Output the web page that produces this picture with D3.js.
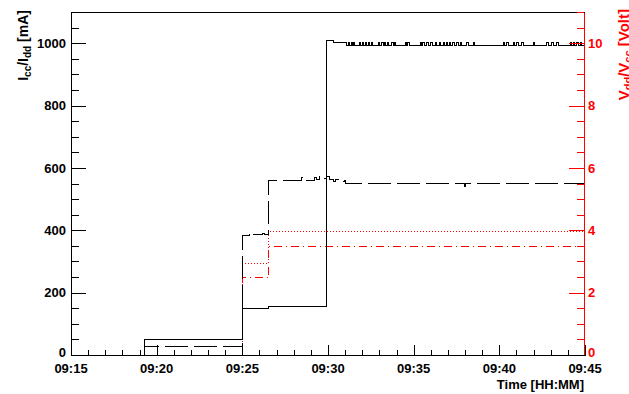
<!DOCTYPE html>
<html><head><meta charset="utf-8">
<script src="https://cdn.jsdelivr.net/npm/d3@7"></script>
<style>
body{margin:0;background:#fff;}
text{font-family:"Liberation Sans",Arial,Helvetica,sans-serif;font-weight:bold;}
</style></head>
<body>
<svg id="c" width="629" height="394"></svg>
<script>
// ---- data (time in minutes after 09:15) ----
const xTickLabels = ["09:15","09:20","09:25","09:30","09:35","09:40","09:45"];
const xTickMinutes = [0,5,10,15,20,25,30];
const leftTicks = [0,200,400,600,800,1000];
const rightTicks = [0,2,4,6,8,10];

// Icc (solid black), mA
const iccSteps = [[4.3,0],[4.3,50],[10.0,150],[11.55,157],[14.9,1010],[15.3,1001],[16.1,994]];
const iccBase = 994, iccHigh = 1001, iccEndTime = 30;
const iccPulseOn  = [16.19,16.35,16.48,16.83,16.99,17.16,17.36,17.51,17.94,18.14,18.29,18.47,18.72,18.88,19.50,19.66,20.37,20.53,20.76,21.00,21.25,21.50,21.73,21.89,22.08,22.28,22.52,22.71,23.10,23.49,25.24,25.43,25.82,26.02,26.31,26.99,27.77,28.06,28.35,29.13,29.32,29.52,29.71];
const iccPulseOff = [16.28,16.43,16.56,16.91,17.07,17.24,17.44,17.59,18.02,18.22,18.37,18.55,18.80,18.96,19.58,19.74,20.45,20.61,20.84,21.08,21.33,21.58,21.81,21.97,22.16,22.36,22.60,22.79,23.18,23.57,25.32,25.51,25.90,26.10,26.39,27.07,27.85,28.14,28.43,29.21,29.40,29.60,29.79];

// Idd (dashed black), mA
const iddSteps = [[4.3,0],[4.3,28],[10.0,382],[10.4,392],[10.5,386],[11.2,390],[11.3,386],[11.55,560],[13.45,570],[13.55,560],[14.2,570],[14.3,562],[14.5,572],[14.65,566],[14.9,572],[15.1,564],[15.3,558],[15.45,563],[15.6,555],[15.95,559],[16.05,550],[22.95,540],[23.05,550],[30,550]];

// Vcc (red dotted), Volt
const vccSteps = [[4.3,0],[10.0,2.95],[11.55,3.97],[30,3.97]];
// Vdd (red dash-dot), Volt
const vddSteps = [[4.3,0],[10.0,2.47],[11.55,3.47],[30,3.47]];

// ---- build ----
const icc = iccSteps.slice();
iccPulseOn.forEach((t,i)=>{ icc.push([t,iccHigh]); icc.push([iccPulseOff[i],iccBase]); });
icc.push([iccEndTime,iccBase]);

const svg = d3.select("#c");
const L=71, R=585, T=12, B=355;
const x = d3.scaleLinear().domain([0,30]).range([L,R]);
const yL = d3.scaleLinear().domain([0,1100]).range([B,T]);
const yR = d3.scaleLinear().domain([0,11]).range([B,T]);

const lineL = d3.line().x(d=>x(d[0])).y(d=>yL(d[1])).curve(d3.curveStepAfter);
const lineR = d3.line().x(d=>x(d[0])).y(d=>yR(d[1])).curve(d3.curveStepAfter);

const data = svg.append("g").attr("shape-rendering","crispEdges");
data.append("path").attr("d",lineR(vccSteps)).attr("fill","none").attr("stroke","#ff0000").attr("stroke-width",1).attr("stroke-dasharray","1,2");
data.append("path").attr("d",lineR(vddSteps)).attr("fill","none").attr("stroke","#ff0000").attr("stroke-width",1).attr("stroke-dasharray","8,4,1,4");
data.append("path").attr("d",lineL(iddSteps)).attr("fill","none").attr("stroke","#000").attr("stroke-width",1).attr("stroke-dasharray","23,6");
data.append("path").attr("d",lineL(icc)).attr("fill","none").attr("stroke","#000").attr("stroke-width",1);

// frame
svg.append("line").attr("x1",L).attr("x2",R).attr("y1",T).attr("y2",T).attr("stroke","#000").attr("shape-rendering","crispEdges");

// left axis
const axL = d3.axisLeft(yL).tickValues(d3.range(0,1101,50)).tickSizeInner(-15).tickSizeOuter(0).tickFormat("");
const gL = svg.append("g").attr("transform",`translate(${L},0)`).attr("shape-rendering","crispEdges").call(axL);
gL.selectAll(".tick line").attr("x2",d=>leftTicks.includes(d)?15:7.5).attr("stroke","#000");
gL.select(".domain").attr("stroke","#000");
svg.append("g").selectAll("text").data(leftTicks).join("text")
  .attr("x",L-5).attr("y",d=>yL(d)-(d===0?3:0)).attr("dy","0.36em").attr("text-anchor","end")
  .attr("font-size",13).text(d=>d);

// right axis
const axR = d3.axisRight(yR).tickValues(d3.range(0,11.01,0.5)).tickSizeInner(-15).tickSizeOuter(0).tickFormat("");
const gR = svg.append("g").attr("transform",`translate(${R-1},0)`).attr("shape-rendering","crispEdges").call(axR);
gR.selectAll(".tick line").attr("x2",d=>rightTicks.includes(Math.round(d*100)/100)?-15:-7.5).attr("stroke","#ff0000");
gR.select(".domain").attr("stroke","#ff0000");
svg.append("g").selectAll("text").data(rightTicks).join("text")
  .attr("x",R+3).attr("y",d=>yR(d)-(d===0?3:0)).attr("dy","0.36em").attr("text-anchor","start")
  .attr("fill","#ff0000").attr("font-size",13).text(d=>d);

// bottom axis
const axB = d3.axisBottom(x).tickValues(d3.range(0,30.01,1)).tickSizeInner(-10).tickSizeOuter(0).tickFormat("");
const gB = svg.append("g").attr("transform",`translate(0,${B})`).attr("shape-rendering","crispEdges").call(axB);
gB.selectAll(".tick line").attr("y2",d=>xTickMinutes.includes(d)?-10:-5).attr("stroke","#000");
gB.select(".domain").attr("stroke","#000");
svg.append("g").selectAll("text").data(xTickMinutes).join("text")
  .attr("x",d=>x(d)).attr("y",373).attr("text-anchor","middle")
  .attr("font-size",13).text((d,i)=>xTickLabels[i]);

// titles
svg.append("text").attr("x",R-1).attr("y",389).attr("text-anchor","end").attr("font-size",13).text("Time [HH:MM]");

const tl = svg.append("text").attr("transform",`translate(28,${T-2}) rotate(-90)`).attr("text-anchor","end").attr("font-size",14);
tl.append("tspan").text("I");
tl.append("tspan").attr("font-size",10).attr("dy",3).text("cc");
tl.append("tspan").attr("dy",-3).text("/I");
tl.append("tspan").attr("font-size",10).attr("dy",3).text("dd");
tl.append("tspan").attr("dy",-3).text(" [mA]");

const tr = svg.append("text").attr("transform",`translate(629,${T-3}) rotate(-90)`).attr("text-anchor","end").attr("font-size",15).attr("fill","#ff0000");
tr.append("tspan").text("V");
tr.append("tspan").attr("font-size",11).attr("dy",3).text("dd");
tr.append("tspan").attr("dy",-3).text("/V");
tr.append("tspan").attr("font-size",11).attr("dy",3).text("cc");
tr.append("tspan").attr("dy",-3).text(" [Volt]");
</script>
</body></html>
